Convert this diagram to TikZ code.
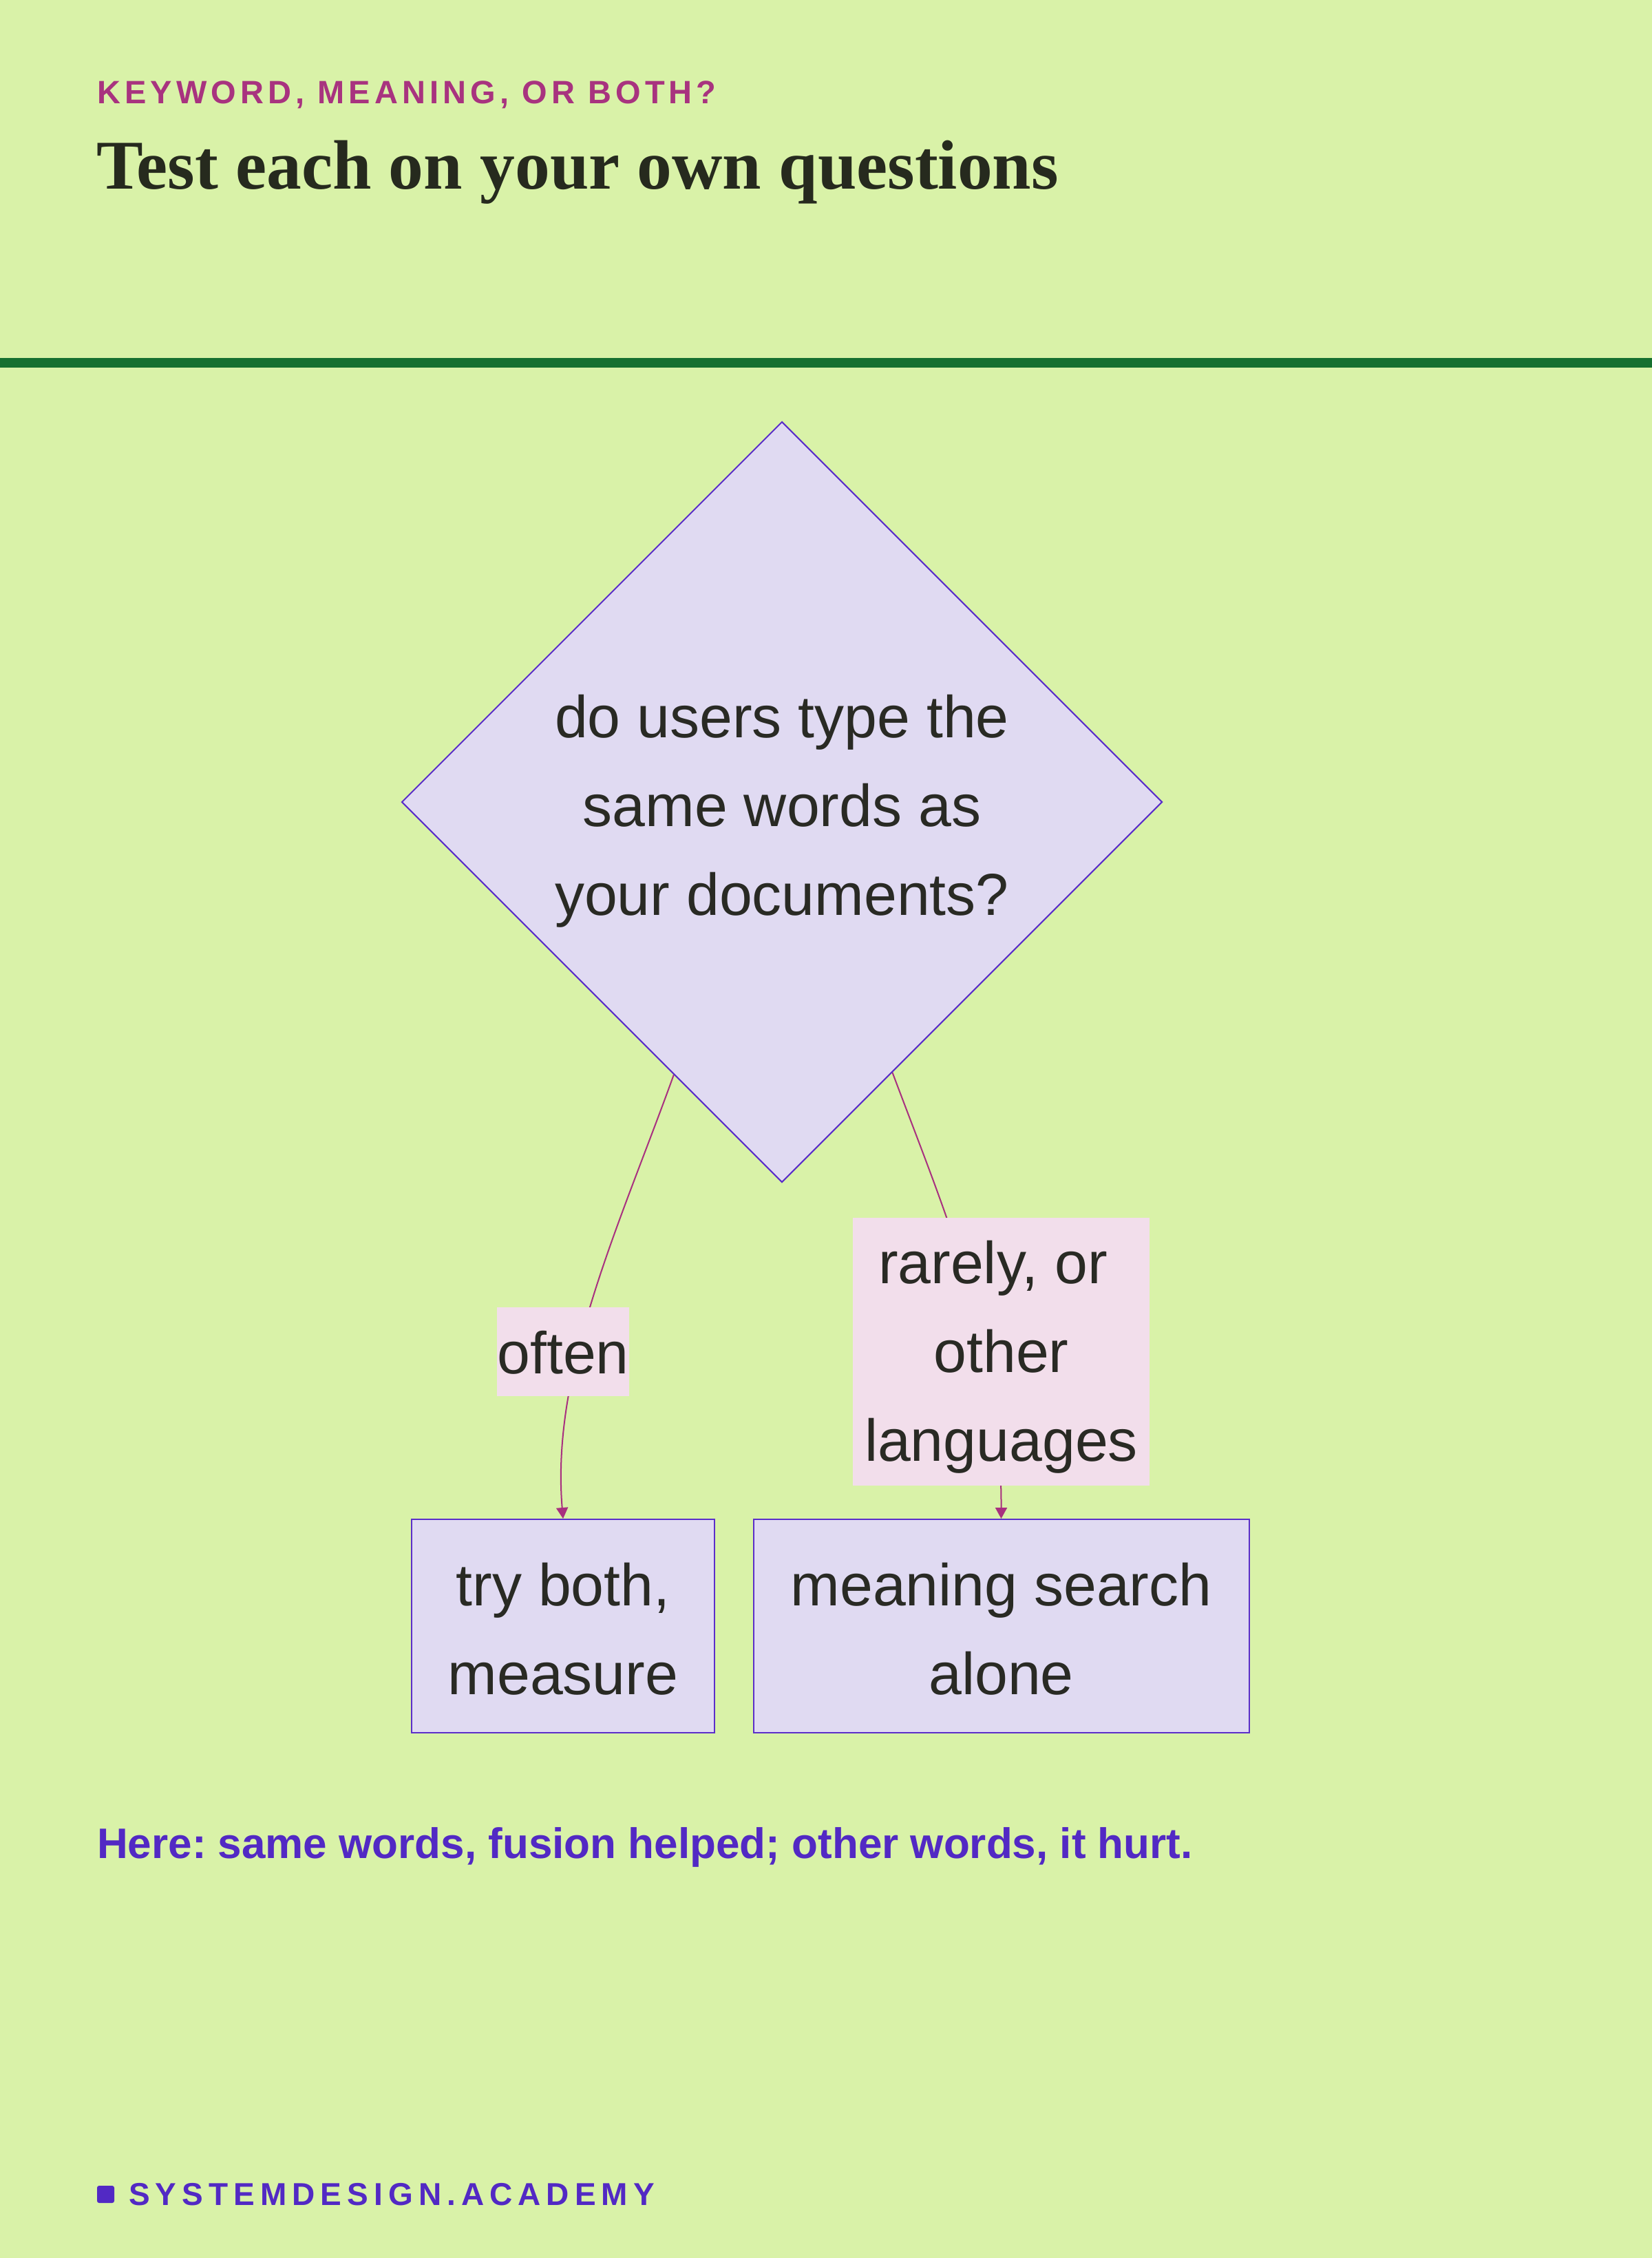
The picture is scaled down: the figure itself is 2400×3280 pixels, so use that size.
\documentclass[tikz,border=0pt]{standalone}
\usepackage{fontspec}
\setmainfont{Liberation Sans}
\newfontfamily\titlefont{Liberation Serif}
\newfontfamily\kickfont{Liberation Sans}[LetterSpace=13]
\newfontfamily\brandfont{Liberation Sans}[LetterSpace=17.5]
\usetikzlibrary{shapes.geometric,arrows.meta,calc}
\definecolor{bgc}{HTML}{D9F2A8}
\definecolor{rulec}{HTML}{16702F}
\definecolor{kickc}{HTML}{A8337F}
\definecolor{titlec}{HTML}{262A1E}
\definecolor{inkc}{HTML}{292A24}
\definecolor{lavc}{HTML}{E0DAF2}
\definecolor{strokec}{HTML}{5B2FC9}
\definecolor{pinkc}{HTML}{F2DEEB}
\definecolor{edgec}{HTML}{A8307F}
\definecolor{notec}{HTML}{5229C4}
\pgfdeclarelayer{edges}
\pgfsetlayers{edges,main}
\frenchspacing
\begin{document}
\begin{tikzpicture}[x=1pt,y=-1pt,
  boxstyle/.style={draw=strokec,fill=lavc,line width=2pt,inner sep=0pt,
    text=inkc,align=center,font=\fontsize{86}{129}\selectfont},
  textstyle/.style={inner sep=0pt,text=inkc,align=center,
    font=\fontsize{86}{129}\selectfont},
  labelstyle/.style={fill=pinkc,inner sep=0pt},
  flow/.style={draw=edgec,line width=2pt,-{Triangle[width=17pt,length=16pt]}}]
\begin{pgfonlayer}{edges}
\fill[bgc] (0,0) rectangle (2400,3280);
\end{pgfonlayer}
\useasboundingbox (0,0) rectangle (2400,3280);
\fill[rulec] (0,520) rectangle (2400,534);
\node[anchor=base west,inner sep=0pt,text=kickc,font=\kickfont\bfseries\fontsize{47}{56}\selectfont] (kicker) at (141,150) {KEYWORD, MEANING, OR BOTH?};
\node[anchor=base west,inner sep=0pt,text=titlec,font=\titlefont\bfseries\fontsize{101.5}{110}\selectfont] (title) at (140,274) {Test each on your own questions};
\node[boxstyle,shape=diamond,aspect=1,minimum width=1105pt,minimum height=1105pt] (dia) at (1136,1165) {};
\node[textstyle] (diatext) at (1136,1178) {do users type the\\same words as\\your documents?};
\node[boxstyle,minimum width=440pt,minimum height=310pt] (tb) at (818,2362) {};
\node[textstyle] (tbtext) at (818,2366) {try both,\\measure};
\node[boxstyle,minimum width=720pt,minimum height=310pt] (mb) at (1454.5,2362) {};
\node[textstyle] (mbtext) at (1454.5,2366) {meaning search\\alone};
\node[labelstyle,minimum width=192pt,minimum height=129pt] (often) at (818,1963) {};
\node[textstyle] (oftentext) at (818,1965) {often};
\node[labelstyle,minimum width=431pt,minimum height=389pt] (rare) at (1454.5,1963) {};
\node[textstyle] (raretext) at (1454.5,1971) {rarely, or\kern24pt\\other\\languages};
\coordinate (ls) at ($(dia.south)!0.284!(dia.west)$);
\coordinate (rs) at ($(dia.south)!0.29!(dia.east)$);
\begin{pgfonlayer}{edges}
\draw[flow] (ls) .. controls (900,1780) and (800,1990) .. (tb.north);
\draw[flow] (rs) .. controls (1380,1780) and (1455,1950) .. (mb.north);
\end{pgfonlayer}
\node[anchor=base west,inner sep=0pt,text=notec,font=\bfseries\fontsize{62}{70}\selectfont] (note) at (141,2699) {Here: same words, fusion helped; other words, it hurt.};
\fill[notec,rounded corners=3pt] (141,3175) rectangle (166,3200);
\node[anchor=base west,inner sep=0pt,text=notec,font=\brandfont\bfseries\fontsize{46}{52}\selectfont] (brand) at (187,3203) {SYSTEMDESIGN.ACADEMY};
\end{tikzpicture}
\end{document}
